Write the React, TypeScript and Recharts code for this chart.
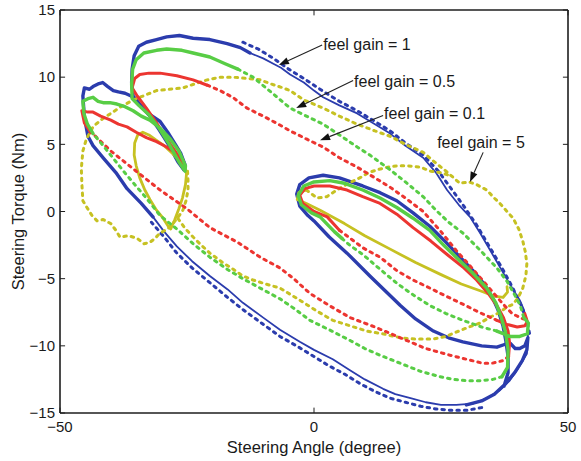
import React from "react"
import { ComposedChart, Line, XAxis, YAxis, ReferenceLine } from "recharts"

// [steering angle (deg), steering torque (Nm)], null = pen up
type Pt = [number, number] | null

const xTicks = [-50, 0, 50]
const yTicks = [-15, -10, -5, 0, 5, 10, 15]

// feel gain = 1
const blueThick: Pt[] = [
  [-31.7, -0.4], [-34, 0.6], [-36.8, 1.7], [-39, 2.9], [-41.5, 4.0], [-43.5, 4.9], [-44.5, 5.6], [-45.2, 7.0], [-45.5, 8.6],
  [-45.2, 9.2], [-44.2, 9.1], [-43.5, 9.3], [-42.5, 9.5], [-41.6, 9.6], [-40.6, 9.3], [-39.5, 9.0], [-38.5, 8.9], [-37.2, 8.8],
  [-36, 8.6], [-34.8, 8.2], [-33.7, 7.7], [-32.2, 7.2], [-30.3, 6.7], [-28.8, 5.9], [-27.3, 5.0], [-26.2, 4.3], [-25.4, 3.5],
  [-25.6, 3.1], [-26.8, 3.7], [-28.5, 4.9], [-30.5, 6.1], [-32.5, 7.2], [-34.3, 8.0], [-35.6, 8.6], [-35.9, 9.6], [-35.8, 10.6],
  [-35.4, 11.6], [-34.5, 12.3], [-33, 12.6], [-31, 12.8], [-29, 13.0], [-26.5, 13.1], [-23.8, 12.9], [-20.5, 12.8], [-17.1, 12.5],
  [-14.5, 12.2], [-12.6, 11.8],
  null,
  [30, -14.4], [33, -14.1], [35.5, -13.6], [37.5, -12.9], [39.5, -12.0], [41, -11.1], [41.9, -10.3], [42.1, -9.4],
  null,
  [37.4, -13.0], [38.2, -12.0], [38.2, -10.8], [37.8, -9.7], [37.2, -8.5], [36.2, -7.3], [35, -6.3], [33.5, -5.4], [31.3, -4.4],
  [29, -3.5], [26, -2.3], [22.8, -1.1], [19.5, -0.1], [16.3, 0.8], [13, 1.4], [9.6, 1.9], [5, 2.5], [1.8, 2.7], [-1, 2.5],
  [-2.8, 2.0], [-3.4, 1.3], [-2.8, 0.4], [-1.2, -0.3], [0, -0.7], [3, -1.9], [6.5, -3.1], [11, -4.8], [14, -5.9], [17, -7.0],
  [20, -8.0], [23.5, -8.9], [26.5, -9.4], [29.3, -9.7], [33, -10.0], [36, -10.1], [37.5, -9.9], [38.6, -9.8], [39.6, -10.2],
  [40.5, -10.2], [41.5, -10.0], [42.1, -9.4],
]

const blueThin: Pt[] = [
  [-12.6, 11.8], [-10, 11.4], [-8, 11.0], [-6.5, 10.7], [-4.7, 10.2], [-2, 9.6], [0, 9.0], [1.8, 8.5], [5, 7.9], [8.5, 7.3],
  [12, 6.5], [15, 5.8], [18, 4.9], [21.5, 4.0], [24, 2.9], [26.2, 1.6], [28.5, 0.5], [30.7, -0.4], [32.7, -1.6], [35, -3.1],
  [37, -4.4], [39, -5.7], [40.5, -6.6], [41.3, -7.3], [42.1, -8.6], [42.1, -9.4], [41.9, -10.6], [40, -11.8], [38.5, -12.6],
  [36.6, -13.3], [34, -13.9], [31.3, -14.3], [28, -14.4], [25, -14.4], [22, -14.2], [19, -13.9], [16, -13.6], [13.6, -13.2],
  [10, -12.5], [7, -11.8], [3.7, -11.0], [0, -10.3], [-2.8, -9.7], [-6.7, -8.8], [-10, -7.9], [-14, -6.8], [-17, -5.8],
  [-20.5, -4.8], [-24, -3.7], [-27, -2.6], [-29.5, -1.5], [-31.7, -0.4],
]

const blueDash: Pt[] = [
  [-14, 12.6], [-11, 12.1], [-8, 11.4], [-5, 10.6], [-2, 9.9], [2, 8.9], [5, 8.2], [8.5, 7.5], [12, 6.7], [15, 6.0], [18, 5.1],
  [21.5, 4.2], [24.5, 3.0], [27, 1.7], [29.5, 0.4], [32, -1.0], [34.5, -2.6], [37, -4.2], [39, -5.6], [40.8, -7.0], [42, -8.3],
  [42.6, -9.4],
  null,
  [33, -14.6], [30, -14.8], [27, -14.8], [24, -14.7], [21, -14.5], [18, -14.2], [15, -13.9], [12, -13.4], [9, -12.8], [6, -12.1],
  [3, -11.5], [0, -10.8], [-3, -10.1], [-6.7, -9.3], [-10, -8.4], [-14, -7.3], [-17, -6.4], [-20.5, -5.3], [-24, -4.2],
  [-27, -3.1], [-29.5, -1.9], [-32, -0.8],
]

// feel gain = 0.5
const greenSolid: Pt[] = [
  [-43.5, 5.8], [-44.6, 6.5], [-45.3, 7.3], [-45.5, 8.2], [-44.5, 8.4], [-43.5, 8.5], [-42.5, 8.2], [-41.5, 8.1], [-40.2, 8.1],
  [-38.8, 8.0], [-37.2, 7.8], [-35.6, 7.5], [-34, 7.1], [-32.3, 6.8], [-30.3, 6.2], [-28.3, 5.4], [-26.6, 4.5], [-25.3, 3.4],
  [-25.4, 3.0], [-26.6, 3.7], [-28.5, 5.0], [-30.5, 6.2], [-32.5, 7.2], [-34.5, 7.9], [-35.8, 8.4], [-35.9, 9.5], [-35.7, 10.6],
  [-35, 11.3], [-33.5, 11.8], [-31, 12.0], [-29, 12.1], [-26, 12.0], [-23.8, 11.8], [-20.5, 11.5], [-17.5, 11.0], [-15, 10.6],
  null,
  [37.0, -12.3], [38.1, -11.6], [38.2, -10.3], [37.7, -9.0], [36.8, -7.8], [35.8, -6.8], [34, -5.7], [31.3, -4.6], [28.5, -3.6],
  [25.5, -2.5], [22.8, -1.4], [19.5, -0.5], [16.3, 0.3], [13, 1.0], [9.6, 1.6], [6, 2.1], [3.1, 2.3], [0, 2.2], [-2, 1.9],
  [-3.1, 1.2], [-2.5, 0.5], [-0.5, -0.1], [1.2, -0.4], [4, -1.5], [5.5, -2.0],
  null,
  [36, -8.9], [38.6, -9.3], [40.5, -9.3], [42, -9.1], [42.2, -8.3], [41.3, -7.9],
]

const greenDash: Pt[] = [
  [-15, 10.6], [-12, 10.0], [-8.5, 8.9], [-4.7, 7.7], [-1.5, 7.1], [1.8, 6.5], [5, 5.7], [8.5, 4.8], [11, 4.2], [15, 3.1],
  [18, 2.2], [21.5, 1.1], [24, 0.1], [26.5, -0.8], [29.3, -1.6], [32.5, -2.8], [36, -4.2], [38, -5.2], [39.5, -6.2], [40.6, -7.0],
  [41.3, -7.9],
  null,
  [37.0, -12.3], [35.2, -12.5], [32.5, -12.6], [30, -12.6], [27.5, -12.5], [24.8, -12.3], [21, -11.9], [17, -11.3], [13, -10.7],
  [10, -10.2], [7.1, -9.6], [3.5, -8.9], [-0.8, -8.1], [-4, -7.2], [-6.7, -6.5], [-10.6, -5.7], [-14, -5.0], [-17.1, -4.3],
  [-20.5, -3.4], [-23.8, -2.4], [-27, -1.3], [-30.3, -0.3], [-33, 1.0], [-35.5, 2.1], [-37.5, 3.0], [-39.6, 4.0], [-41.5, 4.9],
  [-43.5, 5.8],
  null,
  [5.5, -2.0], [7, -2.5], [9.6, -3.2], [13, -4.3], [16.5, -5.4], [19.5, -6.2], [22.8, -7.0], [26, -7.6], [29.3, -8.1],
  [33, -8.6], [36, -8.9],
]

// feel gain = 0.1
const redSolid: Pt[] = [
  [-44, 5.9], [-45.2, 6.6], [-45.7, 7.5], [-44.5, 7.4], [-43.5, 7.4], [-42, 7.1], [-40, 6.8], [-38.5, 6.5], [-36.8, 6.3],
  [-35, 5.9], [-33, 5.5], [-31, 5.2], [-29, 4.8], [-27.5, 4.4], [-26, 3.9], [-25.5, 3.5], [-27, 4.3], [-29, 5.4], [-31, 6.6],
  [-33, 7.7], [-34.8, 8.6], [-35.8, 9.2], [-35.3, 9.9], [-34.3, 10.2], [-32.5, 10.3], [-30.3, 10.3], [-27, 10.1], [-23.8, 9.8],
  [-21, 9.4],
  null,
  [38.3, -10.8], [38.5, -9.8], [38.2, -8.9], [37.3, -7.9], [36, -7.0], [34.3, -6.1], [32, -5.1], [29.5, -4.2], [26.2, -3.2],
  [23, -2.2], [19.5, -1.2], [16.3, -0.2], [13, 0.6], [9.6, 1.1], [6.5, 1.6], [3.1, 1.9], [0, 1.9], [-1.8, 1.7], [-2.8, 1.2],
  [-2.2, 0.6], [0, 0.0], [2.6, -0.4], [5, -1.4],
  null,
  [36, -8.1], [38, -8.4], [40, -8.6], [41.5, -8.5], [42, -8.2], [41.5, -7.6],
]

const redDash: Pt[] = [
  [-21, 9.4], [-18.5, 9.0], [-16, 8.5], [-13.2, 7.7], [-10, 7.1], [-7, 6.5], [-4.7, 6.0], [-1.5, 5.4], [1.8, 4.8], [5, 4.0],
  [8.5, 3.3], [12, 2.5], [15, 1.8], [18, 1.0], [21.5, 0.0], [25, -1.5], [28, -2.9], [31.3, -4.3], [34.5, -5.7], [37, -6.8],
  [39, -7.6], [41.2, -8.0],
  null,
  [38.3, -10.8], [37.2, -11.1], [35, -11.3], [33.3, -11.3], [30, -11.0], [26.8, -10.7], [22, -10.2], [17, -9.4], [12, -8.6],
  [7.1, -7.9], [3, -7.0], [-0.8, -6.1], [-4, -5.0], [-6.7, -4.2], [-10.6, -3.4], [-15, -2.3], [-20.5, -1.2], [-25, 0.2],
  [-30.3, 1.6], [-35, 3.0], [-40, 4.5], [-43, 5.6], [-44, 5.9],
  null,
  [5, -1.4], [7.5, -2.1], [9.6, -2.7], [13, -3.4], [16.3, -4.4], [19.5, -5.1], [22.8, -5.7], [26, -6.3], [29.3, -6.9],
  [32.5, -7.5], [36, -8.1],
]

// feel gain = 5
const yellowSolid: Pt[] = [
  [-25.4, 3.3], [-26.5, 3.8], [-27.8, 4.3], [-29.5, 4.9], [-31, 5.3], [-32.5, 5.7], [-33.7, 5.9], [-34.7, 5.7], [-35.3, 5.1],
  [-35.4, 4.2], [-35, 3.4], [-34.3, 2.5], [-33.3, 1.6], [-32.3, 0.9], [-31, 0.1], [-29.7, -0.5], [-28.7, -1.1], [-28.2, -1.3],
  [-27.4, -0.6], [-26.6, 0.2], [-25.9, 1.0], [-25.3, 2.0], [-25.1, 2.8], [-25.4, 3.3],
  null,
  [-1.5, 1.6], [-3.0, 1.4], [-3.3, 0.9], [-1.5, 0.6], [1.2, 0.1], [6, -0.9], [10, -1.8], [15, -2.8], [20, -3.8], [25, -4.7],
  [29, -5.4], [32.7, -5.9], [35.5, -6.3], [37.2, -6.4], [38.1, -6.0], [38, -5.6],
]

const yellowDash: Pt[] = [
  [-24.9, 3.0], [-24.8, 2.3], [-24.8, 1.6], [-25.2, 0.8], [-25.8, 0.1], [-26.7, -0.4], [-27.8, -0.9], [-28.8, -1.3],
  [-30.3, -1.6], [-31.3, -2.0], [-32.3, -2.3], [-33.5, -2.4], [-34.8, -2.0], [-36.5, -1.8], [-38.2, -1.9], [-39, -1.4],
  [-40, -0.9], [-41.5, -0.6], [-42.7, -0.7], [-43.7, -0.3], [-44.7, 0.3], [-45.5, 0.8], [-45.7, 2.1], [-45.8, 3.2], [-45.5, 4.5],
  [-44.8, 5.4], [-43.5, 6.3], [-42, 6.8], [-40, 7.3], [-38, 7.8], [-35.6, 8.3], [-33, 8.7], [-31, 9.0], [-28.5, 9.1],
  [-25.8, 9.2], [-23.5, 9.5], [-21, 9.8], [-18.5, 10.0], [-16, 10.0], [-13, 9.9], [-10.6, 9.8], [-8.5, 9.5], [-6.1, 9.2],
  [-4.7, 9.0], [-2, 8.3], [1.8, 7.7], [5, 7.1], [8.5, 6.5], [12, 6.0], [15, 5.6], [18, 5.0], [21.5, 4.4], [24, 3.6], [26, 3.0],
  [28.7, 2.1], [30.5, 2.2], [32, 2.0], [34, 1.6], [35.5, 1.0], [36.6, 0.6], [38, 0.0], [39.2, -0.5], [40.3, -1.3], [41.1, -2.2],
  [41.6, -3.0], [41.9, -3.9], [41.7, -4.8], [41.1, -5.7], [40.2, -6.4], [39.2, -6.9], [38, -7.1], [36.6, -7.5], [34.5, -7.9],
  [32.7, -8.3], [30.5, -8.6], [28.5, -8.9], [26, -9.3], [23.4, -9.5], [20, -9.5], [17, -9.4], [13.5, -9.1], [10.4, -8.9],
  [7, -8.5], [3.7, -8.1], [0.5, -7.4], [-2.8, -6.6], [-6.7, -5.7], [-9.5, -5.4], [-12, -5.1], [-14, -4.8], [-15.9, -4.3],
  [-18, -3.8], [-20.5, -3.1], [-22.2, -2.5], [-23.8, -1.9], [-25.5, -1.2], [-27, -0.4],
  null,
  [-1.5, 1.6], [0.6, 1.0], [2.5, 1.1], [4.5, 1.6], [6.8, 2.1], [9, 2.5], [10.8, 2.9], [12.4, 3.1], [14.5, 3.3], [16.3, 3.4],
  [18.5, 3.4], [20.9, 3.3], [23, 3.0], [24.8, 2.9], [26.5, 2.7],
]

// annotation: label, line start (at label), arrow tip, label offset in px
const notes = [
  { text: "feel gain = 1", from: { x: 1.6, y: 12.4 }, to: { x: -6.9, y: 10.9 }, dx: 1, dy: 5 },
  { text: "feel gain = 0.5", from: { x: 7.7, y: 9.75 }, to: { x: -3.5, y: 7.7 }, dx: 1, dy: 6 },
  { text: "feel gain = 0.1", from: { x: 13.6, y: 7.15 }, to: { x: 1.2, y: 5.3 }, dx: 1, dy: 4 },
  { text: "feel gain = 5", from: { x: 33.3, y: 4.4 }, to: { x: 30.7, y: 2.2 }, dx: -46, dy: -4 },
]

const BLUE = "#2b3cad"
const GREEN = "#58cd45"
const RED = "#ec3530"
const YELLOW = "#c6c122"
const AXIS = "#1e1e1e"
const FONT = "'Liberation Sans', Arial, sans-serif"
const DOTS = "2.5 5"

const toRows = (pts: Pt[]) => {
  let lastX = 0
  return pts.map((p) => {
    if (!p) return { x: lastX, y: null }
    lastX = p[0]
    return { x: p[0], y: p[1] }
  })
}

function Arrow(props: any) {
  const { x1, y1, x2, y2, text, dx, dy } = props
  const ang = Math.atan2(y2 - y1, x2 - x1)
  const len = 10
  const half = 3.6
  const bx = x2 - len * Math.cos(ang)
  const by = y2 - len * Math.sin(ang)
  const px = -Math.sin(ang) * half
  const py = Math.cos(ang) * half
  return (
    <g>
      <line x1={x1} y1={y1} x2={bx} y2={by} stroke="#222" strokeWidth={1.1} />
      <polygon points={`${x2},${y2} ${bx + px},${by + py} ${bx - px},${by - py}`} fill="#111" />
      <text x={x1 + dx} y={y1 + dy} fontSize={16} fontFamily={FONT} fill="#1a1a1a">
        {text}
      </text>
    </g>
  )
}

const fmt = (v: number) => (v < 0 ? `\u2212${Math.abs(v)}` : `${v}`)

const series = [
  { key: "bThin", pts: blueThin, color: BLUE, w: 1.8, dash: undefined },
  { key: "bDash", pts: blueDash, color: BLUE, w: 3, dash: DOTS },
  { key: "bThick", pts: blueThick, color: BLUE, w: 3.4, dash: undefined },
  { key: "yDash", pts: yellowDash, color: YELLOW, w: 3, dash: DOTS },
  { key: "ySolid", pts: yellowSolid, color: YELLOW, w: 2.8, dash: undefined },
  { key: "rDash", pts: redDash, color: RED, w: 3, dash: DOTS },
  { key: "rSolid", pts: redSolid, color: RED, w: 3, dash: undefined },
  { key: "gDash", pts: greenDash, color: GREEN, w: 3, dash: DOTS },
  { key: "gSolid", pts: greenSolid, color: GREEN, w: 3.4, dash: undefined },
]

export default function App() {
  const tick = { fill: "#1a1a1a", fontSize: 15, fontFamily: FONT }
  return (
    <div style={{ position: "absolute", left: 0, top: 0, width: 581, height: 461, background: "#fff" }}>
      <ComposedChart width={581} height={461} margin={{ top: 10, right: 13, left: 0, bottom: 0 }}>
        <XAxis
          type="number"
          dataKey="x"
          domain={[-50, 50]}
          allowDataOverflow
          ticks={xTicks}
          tickFormatter={fmt}
          tick={tick}
          tickLine={false}
          tickSize={0}
          tickMargin={8}
          height={48}
          axisLine={{ stroke: AXIS, strokeWidth: 1.6 }}
          label={{ value: "Steering Angle (degree)", position: "insideBottom", offset: 8, fill: "#1a1a1a", fontSize: 16.5, fontFamily: FONT }}
        />
        <YAxis
          type="number"
          dataKey="y"
          domain={[-15, 15]}
          allowDataOverflow
          ticks={yTicks}
          tickFormatter={fmt}
          tick={tick}
          tickLine={false}
          tickSize={0}
          tickMargin={5}
          width={60}
          axisLine={{ stroke: AXIS, strokeWidth: 1.6 }}
          label={{
            value: "Steering Torque (Nm)",
            angle: -90,
            position: "insideLeft",
            offset: 18,
            fill: "#1a1a1a",
            fontSize: 16.5,
            fontFamily: FONT,
            style: { textAnchor: "middle" },
          }}
        />

        {/* box frame and inward ticks */}
        <ReferenceLine y={15} stroke={AXIS} strokeWidth={1.6} />
        <ReferenceLine x={50} stroke={AXIS} strokeWidth={1.6} />
        {yTicks.map((v) => (
          <ReferenceLine key={`yl${v}`} segment={[{ x: -50, y: v }, { x: -49, y: v }]} stroke={AXIS} strokeWidth={1} />
        ))}
        {yTicks.map((v) => (
          <ReferenceLine key={`yr${v}`} segment={[{ x: 49, y: v }, { x: 50, y: v }]} stroke={AXIS} strokeWidth={1} />
        ))}
        {xTicks.map((v) => (
          <ReferenceLine key={`xb${v}`} segment={[{ x: v, y: -15 }, { x: v, y: -14.6 }]} stroke={AXIS} strokeWidth={1} />
        ))}
        {xTicks.map((v) => (
          <ReferenceLine key={`xt${v}`} segment={[{ x: v, y: 14.6 }, { x: v, y: 15 }]} stroke={AXIS} strokeWidth={1} />
        ))}

        {series.map((s) => (
          <Line
            key={s.key}
            data={toRows(s.pts)}
            dataKey="y"
            type="linear"
            stroke={s.color}
            strokeWidth={s.w}
            strokeDasharray={s.dash}
            strokeLinecap="round"
            strokeLinejoin="round"
            dot={false}
            activeDot={false}
            legendType="none"
            isAnimationActive={false}
          />
        ))}

        {notes.map((n) => (
          <ReferenceLine
            key={n.text}
            segment={[n.from, n.to]}
            shape={(p: any) => <Arrow {...p} text={n.text} dx={n.dx} dy={n.dy} />}
          />
        ))}
      </ComposedChart>
    </div>
  )
}
